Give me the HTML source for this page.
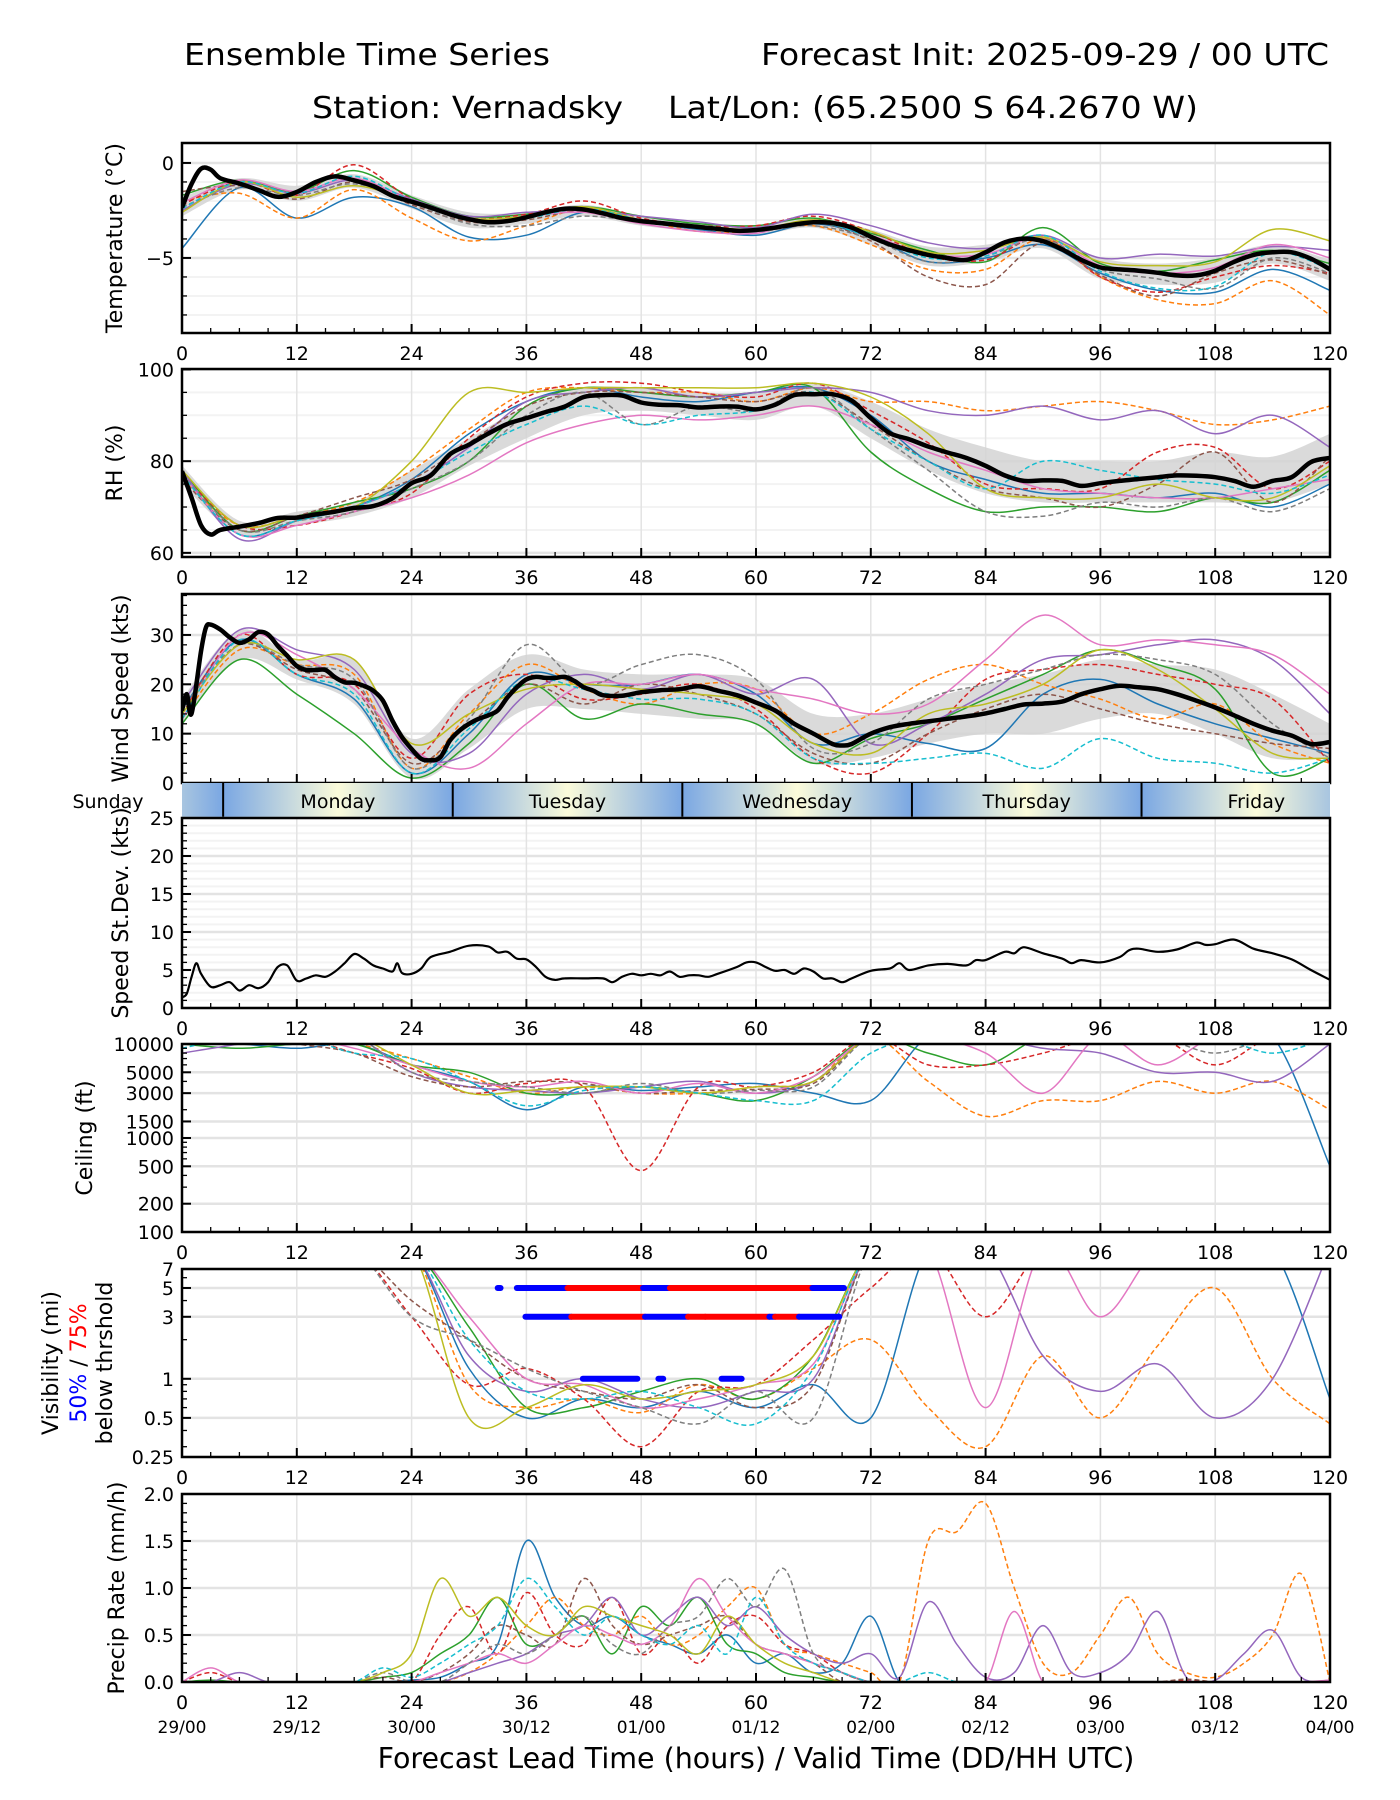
<!DOCTYPE html>
<html><head><meta charset="utf-8"><title>Ensemble Time Series - Vernadsky</title>
<style>
html,body{margin:0;padding:0;background:#fff;}
svg{display:block;font-family:"DejaVu Sans","Liberation Sans",sans-serif;}
</style></head>
<body>
<svg id="chart" xmlns="http://www.w3.org/2000/svg" width="1400" height="1800" viewBox="0 0 1400 1800">
<rect width="1400" height="1800" fill="#fff"/>
<text x="184" y="65" font-size="30" textLength="366" lengthAdjust="spacingAndGlyphs">Ensemble Time Series</text>
<text x="1329" y="65" font-size="30" text-anchor="end" textLength="568" lengthAdjust="spacingAndGlyphs">Forecast Init: 2025-09-29 / 00 UTC</text>
<text x="312" y="118" font-size="30" textLength="311" lengthAdjust="spacingAndGlyphs">Station: Vernadsky</text>
<text x="1198" y="118" font-size="30" text-anchor="end" textLength="530" lengthAdjust="spacingAndGlyphs">Lat/Lon: (65.2500 S 64.2670 W)</text>
<text x="756" y="1768" font-size="28.5" text-anchor="middle">Forecast Lead Time (hours) / Valid Time (DD/HH UTC)</text>
<g id="layer"></g>
</svg>
<script>
// ---------- DATA ----------
const memberColors = ["#1f77b4","#ff7f0e","#2ca02c","#d62728","#9467bd","#8c564b","#e377c2","#7f7f7f","#bcbd22","#17becf"];
const memberDashed = [false,true,false,true,false,true,false,true,false,true];
const hours6 = [0,6,12,18,24,30,36,42,48,54,60,66,72,78,84,90,96,102,108,114,120];
const hours3 = [0,3,6,9,12,15,18,21,24,27,30,33,36,39,42,45,48,51,54,57,60,63,66,69,72,75,78,81,84,87,90,93,96,99,102,105,108,111,114,117,120];

// Temperature
const tempMeanHours = [0,1,2,3,4,6,8,10,12,14,16,18,20,22,24,26,28,30,32,34,36,38,40,42,44,46,48,50,52,54,56,58,60,62,64,66,68,70,72,74,76,78,80,82,84,86,88,90,92,94,96,98,100,102,104,106,108,110,112,114,116,118,120];
const tempMean = [-2.35,-1.1,-0.3,-0.35,-0.8,-1.08,-1.43,-1.78,-1.53,-1.0,-0.71,-0.92,-1.22,-1.73,-2.04,-2.35,-2.7,-2.96,-3.12,-3.06,-2.86,-2.6,-2.41,-2.45,-2.65,-2.9,-3.06,-3.16,-3.27,-3.37,-3.47,-3.57,-3.53,-3.4,-3.24,-3.12,-3.16,-3.4,-3.88,-4.29,-4.59,-4.84,-5.0,-5.1,-4.7,-4.18,-3.98,-4.12,-4.55,-5.1,-5.5,-5.6,-5.67,-5.78,-5.92,-5.92,-5.67,-5.2,-4.84,-4.7,-4.7,-5.04,-5.6];
const tempLo = [-2.8,-1.4,-2.0,-1.3,-2.4,-3.4,-3.2,-2.8,-3.3,-3.6,-3.8,-3.4,-4.3,-5.4,-5.2,-4.5,-6.1,-6.4,-6.3,-5.3,-6.2];
const tempHi = [-1.8,-0.8,-1.2,-0.6,-1.7,-2.6,-2.6,-2.2,-2.8,-3.1,-3.3,-2.9,-3.5,-4.4,-4.3,-3.8,-5.0,-5.3,-5.0,-4.3,-5.1];
const tempM1 = [-4.5,-1.3,-2.9,-1.8,-2.3,-3.9,-3.8,-2.6,-3.1,-3.5,-3.8,-3.2,-3.9,-5.2,-5.0,-4.3,-5.8,-6.7,-6.8,-5.6,-6.7];
const tempM2 = [-2.0,-1.6,-2.9,-1.4,-2.9,-4.1,-3.3,-2.4,-3.0,-3.6,-3.6,-3.3,-4.3,-5.6,-5.6,-4.0,-6.0,-7.2,-7.4,-6.2,-8.0];
const tempM3 = [-1.7,-0.9,-1.5,-0.4,-1.8,-2.8,-2.7,-2.3,-2.8,-3.2,-3.3,-2.9,-3.7,-4.6,-5.2,-3.4,-5.3,-5.7,-5.1,-4.6,-5.3];
const tempM4 = [-2.2,-1.0,-1.7,-0.1,-1.9,-2.9,-2.7,-2.0,-2.9,-3.3,-3.3,-2.8,-3.6,-4.9,-5.1,-3.9,-6.0,-6.8,-6.0,-5.4,-5.8];
const tempM5 = [-2.5,-1.1,-1.6,-0.9,-1.9,-2.8,-2.6,-2.5,-2.8,-3.1,-3.4,-2.7,-3.3,-4.2,-4.5,-3.8,-5.0,-4.8,-4.9,-4.4,-4.6];
const tempM6 = [-1.5,-1.2,-1.9,-1.0,-2.2,-3.1,-3.0,-2.5,-3.1,-3.4,-3.5,-3.1,-4.1,-6.0,-6.4,-4.2,-5.9,-7.0,-5.8,-5.1,-5.9];
const tempM7 = [-2.1,-0.9,-1.5,-0.8,-2.0,-3.0,-2.8,-2.6,-3.2,-3.6,-3.7,-3.0,-3.8,-4.8,-4.8,-3.9,-5.4,-5.8,-5.5,-4.3,-5.0];
const tempM8 = [-2.3,-1.3,-1.7,-1.1,-2.1,-3.2,-3.3,-2.8,-3.1,-3.4,-3.6,-3.3,-4.0,-5.2,-4.9,-4.0,-5.6,-6.1,-6.6,-5.0,-5.8];
const tempM9 = [-2.6,-1.0,-1.8,-1.2,-2.0,-2.9,-2.8,-2.3,-3.0,-3.3,-3.5,-3.0,-3.6,-4.7,-4.6,-3.9,-5.2,-5.4,-5.2,-3.5,-4.1];
const tempM10 = [-2.4,-1.0,-1.6,-0.7,-2.0,-3.0,-2.9,-2.4,-3.0,-3.4,-3.6,-3.1,-3.9,-5.0,-4.9,-3.8,-5.7,-6.6,-6.5,-4.7,-5.6];

// Relative humidity
const rhMeanHours = [0,1,2,3,4,6,8,10,12,14,16,18,20,22,24,26,28,30,32,34,36,38,40,42,44,46,48,50,52,54,56,58,60,62,64,66,68,70,72,74,76,78,80,82,84,86,88,90,92,94,96,98,100,102,104,106,108,110,112,114,116,118,120];
const rhMean = [77.8,72,66,64,65,65.7,66.5,67.6,67.7,68.4,69,69.8,70.2,71.9,75.2,76.9,81.5,83.6,86,88.1,89.4,90.7,91.9,94,94.4,94.3,92.8,92.3,92.2,91.7,91.9,91.9,91.3,92.3,94.4,94.6,94.6,93.2,89.4,86.1,84.8,83.2,81.9,80.7,79,76.9,75.7,75.8,75.7,74.6,75.2,75.7,76.1,76.5,76.9,76.8,76.5,75.7,74.4,75.7,76.5,79.8,80.7];
const rhLo = [75,64,66,68,72,79,85,90,91,90,89,92,85,78,73,71,71,71,71,71,75];
const rhHi = [79,67,69,71,78,85,92,96,96,95,95,97,93,87,83,80,80,80,82,81,86];
const rhM1 = [77,64,67,70,76,86,93,96,94,93,95,96,90,80,76,73,73,72,73,70,75];
const rhM2 = [76,66,68,71,78,87,95,96,95,95,93,96,93,93,91,92,93,91,88,89,92];
const rhM3 = [78,65,68,71,74,80,92,96,95,94,95,96,82,74,69,70,70,69,72,71,78];
const rhM4 = [77,66,66,69,73,85,94,97,97,95,94,97,91,84,75,74,74,82,83,74,80];
const rhM5 = [78,63,67,70,75,83,93,95,96,94,95,96,95,91,90,92,89,91,86,90,83];
const rhM6 = [76,65,68,72,76,84,92,95,95,94,93,95,88,80,74,72,70,75,82,71,81];
const rhM7 = [77,64,66,69,72,77,84,88,90,89,90,92,88,82,78,74,73,72,72,74,76];
const rhM8 = [77,65,67,69,74,80,90,95,88,92,91,96,87,78,69,68,71,70,72,69,74];
const rhM9 = [78,66,68,70,80,95,95,96,96,96,96,97,94,86,74,72,72,75,72,72,79];
const rhM10 = [77,64,67,70,75,82,88,92,88,90,91,95,87,80,74,80,78,76,75,73,77];

// Wind speed
const windMeanHours = [0,0.5,1,2,2.5,3,4,5,6,7,8,9,10,11,12,13,14,15,16,17,18,19,20,21,22,23,24,25,26,27,28,29,30,31,32,33,34,35,36,37,38,39,40,41,42,43,44,46,48,50,52,54,56,58,60,62,64,66,68,69,70,72,74,76,78,80,82,84,86,88,90,92,94,96,98,100,102,104,106,108,110,112,114,116,118,120];
const windMean = [14.7,18,14.1,26.8,31.5,32.1,31.1,29.5,28.4,29.1,30.6,30.1,27.8,25.8,23.7,22.9,22.9,22.9,21.4,20.4,20.3,19.7,18.7,16.7,12.6,9.3,6.9,4.9,4.6,5.2,8.6,10.6,12,13,13.7,14.7,17.3,19.4,21,21.5,21.3,21.3,21.5,20.7,19.4,18.7,17.8,17.7,18.4,18.8,19,19.6,18.7,17.8,16.3,14.7,12,10,7.9,7.6,7.9,10,11.3,12,12.5,13,13.5,14.1,15,15.9,16.1,16.5,18,19,19.7,19.4,19,18,16.7,15.3,13.7,12,10.6,9.6,7.9,8.3];
const windLo = [12,25,21,16,1,7,15,15,14,13,12,4,5,8,10,10,13,14,10,5,5];
const windHi = [17,31,25,25,9,19,26,23,22,22,21,14,14,17,20,22,25,24,23,18,12];
const windM1 = [15,29,22,17,2,10,22,20,20,22,18,8,10,8,7,18,21,16,12,9,6];
const windM2 = [13,27,24,22,3,14,24,19,16,20,19,10,14,21,24,20,17,13,16,8,4];
const windM3 = [12,25,18,10,1,8,20,13,16,14,12,4,9,12,17,22,27,24,19,2,5];
const windM4 = [14,30,22,20,5,18,22,17,18,20,15,5,2,10,21,23,24,22,20,17,4];
const windM5 = [16,31,27,23,6,6,18,22,19,22,18,21,8,12,18,25,26,28,29,25,14];
const windM6 = [15,28,23,19,4,12,20,16,20,18,14,6,4,10,15,18,15,12,10,8,7];
const windM7 = [13,30,26,19,7,3,12,20,20,22,19,17,14,16,25,34,28,29,28,26,18];
const windM8 = [15,28,24,21,3,13,28,20,24,26,21,7,8,17,20,23,26,25,22,12,5];
const windM9 = [14,28,25,25,8,14,19,20,19,18,16,8,6,14,16,20,27,23,15,6,5];
const windM10 = [13,29,22,18,2,11,21,19,17,17,14,5,4,5,6,3,9,5,4,2,5];

// Speed standard deviation
const sdHours = [0,0.5,1,1.5,2,3,4,5,6,7,8,9,10,11,12,13,14,15,16,17,18,19,20,21,22,22.5,23,24,25,26,28,30,32,33,34,35,36,37,38,39,40,42,44,45,46,47,48,49,50,51,52,53,54,55,56,58,59,60,61,62,63,64,65,66,67,68,69,70,72,74,75,76,78,80,82,83,84,86,87,88,90,92,93,94,96,98,99,100,102,104,106,107,108,110,112,114,116,118,120];
const sdValues = [1.4,1.9,4.1,5.9,4.5,2.8,3.0,3.4,2.3,3.0,2.6,3.4,5.4,5.6,3.6,3.9,4.3,4.1,4.8,5.9,7.1,6.5,5.6,5.2,4.8,5.9,4.6,4.5,5.2,6.7,7.4,8.2,8.1,7.3,7.4,6.5,6.4,5.4,4.1,3.7,3.9,3.9,3.9,3.4,4.1,4.5,4.3,4.5,4.3,4.8,4.1,4.3,4.3,4.1,4.5,5.4,6.0,6.0,5.4,4.9,5.0,4.5,5.2,4.8,3.9,3.9,3.4,3.9,4.9,5.2,5.9,5.0,5.6,5.8,5.6,6.3,6.3,7.4,7.2,8.0,7.2,6.5,5.9,6.3,6.0,6.7,7.6,7.8,7.4,7.7,8.6,8.3,8.4,9.0,7.8,7.2,6.4,5.0,3.7];

// Ceiling (ft)
const ceilM1 = [10000,10000,9000,10000,6000,4000,2000,3500,3200,3500,3800,3000,2500,12000,12000,10000,12000,12000,12000,12000,500];
const ceilM2 = [10000,10000,10000,10000,7000,4500,3000,3500,3000,3000,3500,4000,12000,4000,1700,2500,2500,4000,3000,4000,2000];
const ceilM3 = [10000,9000,10000,10000,6000,5000,3000,3000,3500,3000,2500,4500,12000,8000,6000,12000,12000,12000,12000,12000,12000];
const ceilM4 = [12000,12000,12000,8000,5500,3000,3800,3500,450,3500,3500,5000,12000,6000,6000,8000,12000,12000,6000,12000,12000];
const ceilM5 = [8000,10000,12000,12000,5000,3500,3200,3000,3500,4000,3000,4000,12000,12000,12000,9000,8000,5000,5000,4000,10000];
const ceilM6 = [12000,12000,10000,8000,4500,3500,4000,3800,3000,3200,3300,3800,12000,12000,12000,12000,12000,12000,12000,12000,12000];
const ceilM7 = [12000,12000,12000,9000,6000,4000,3500,4000,3000,3800,3000,4500,12000,12000,8000,3000,12000,6000,12000,12000,12000];
const ceilM8 = [12000,12000,12000,12000,5000,4000,3500,3000,3800,3000,3200,3500,12000,12000,12000,12000,12000,12000,8000,12000,12000];
const ceilM9 = [12000,12000,12000,12000,6000,3000,3200,3500,3500,3000,3500,4000,12000,12000,12000,12000,12000,12000,12000,12000,12000];
const ceilM10 = [9000,12000,12000,8000,7000,4000,2200,3200,3500,3000,2500,2500,8000,12000,12000,12000,12000,12000,12000,8000,12000];

// Visibility (mi)
const visM1 = [10,10,10,10,10,1.2,0.5,0.7,0.6,0.8,0.6,0.9,0.5,10,10,10,10,10,10,10,0.7];
const visM2 = [10,10,10,10,10,0.9,0.6,0.7,0.55,0.9,0.7,1.2,2,0.6,0.3,1.5,0.5,1.8,5,1,0.45];
const visM3 = [10,10,10,10,10,2.5,0.6,0.6,0.8,1.0,0.7,1.5,10,10,10,10,10,10,10,10,10];
const visM4 = [10,10,10,10,3,0.9,1.2,0.7,0.3,0.8,0.9,2,5,10,3,10,10,10,10,10,10];
const visM5 = [10,10,10,10,10,1.5,0.8,1.0,0.7,0.6,0.8,1.0,10,10,10,1.5,0.8,1.3,0.5,1.0,10];
const visM6 = [10,10,10,10,4,2,1,0.8,0.7,0.9,0.6,0.9,10,10,10,10,10,10,10,10,10];
const visM7 = [10,10,10,10,10,3,1.0,0.9,0.6,0.7,0.9,1.3,10,10,0.6,10,3,10,10,10,10];
const visM8 = [10,10,10,10,3,2,1.2,0.8,0.6,0.45,0.8,0.5,10,10,10,10,10,10,10,10,10];
const visM9 = [10,10,10,10,10,0.5,0.6,0.9,0.7,0.8,0.9,1.5,10,10,10,10,10,10,10,10,10];
const visM10 = [10,10,10,10,10,2,0.8,0.7,0.8,0.6,0.45,1.2,10,10,10,10,10,10,10,10,10];
const thrStart = [33.0,35.0,40.3,48.2,51.0,65.9,35.9,40.7,48.4,52.9,54.7,61.4,62.0,64.5,41.9,49.8,56.4];
const thrEnd   = [33.3,40.3,48.2,51.0,65.9,69.2,40.7,48.4,52.9,54.7,61.4,62.0,64.5,68.7,47.6,50.3,58.5];
const thrLevel = [5,5,5,5,5,5,3,3,3,3,3,3,3,3,1,1,1];
const thrClass = [50,50,75,50,75,50,50,75,50,75,75,50,75,50,50,50,50];

// Precip rate (mm/h), 3-hourly
const prM1 = [0,0,0,0,0,0,0,0,0.02,0.05,0.2,0.4,1.5,0.9,0.6,0.7,0.5,0.4,0.3,0.5,0.2,0.3,0.1,0.2,0.7,0,0,0,0,0,0,0,0,0,0,0,0,0,0,0,0];
const prM2 = [0,0,0,0,0,0,0,0,0,0,0.1,0.3,0.6,0.9,0.6,0.5,0.7,0.4,0.5,0.8,1.0,0.4,0.3,0.2,0.1,0,1.5,1.6,1.9,1.0,0.2,0.1,0.5,0.9,0.3,0.1,0.05,0.2,0.5,1.15,0];
const prM3 = [0,0.02,0,0,0,0,0,0.05,0.1,0.3,0.5,0.9,0.4,0.5,0.7,0.3,0.8,0.6,0.9,0.4,0.3,0.1,0.05,0,0,0,0,0,0,0,0,0,0,0,0,0,0,0,0,0,0];
const prM4 = [0,0.1,0,0,0,0,0,0,0,0.5,0.8,0.3,0.95,0.5,0.4,0.9,0.3,0.5,0.2,0.6,0.7,0.4,0.3,0.1,0,0,0,0,0,0,0,0,0,0,0,0.02,0,0,0,0,0];
const prM5 = [0,0,0.1,0,0,0,0,0,0,0,0.1,0.2,0.3,0.5,0.6,0.9,0.5,0.7,0.9,0.6,0.8,0.5,0.3,0.2,0.3,0.05,0.85,0.4,0.05,0.1,0.6,0.1,0.1,0.3,0.75,0.05,0.02,0.3,0.55,0.05,0.02];
const prM6 = [0,0,0,0,0,0,0,0.05,0,0.1,0.3,0.6,0.5,0.4,1.1,0.6,0.4,0.5,0.6,0.7,0.4,0.3,0.2,0,0,0,0,0,0,0,0,0,0,0,0,0.03,0,0,0,0,0];
const prM7 = [0,0.15,0,0,0,0,0,0,0,0.1,0.2,0.3,0.2,0.4,0.6,0.5,0.4,0.6,1.1,0.7,0.4,0.3,0.2,0.1,0,0,0,0,0,0.75,0,0,0,0,0,0,0,0,0,0,0.02];
const prM8 = [0,0,0,0,0,0,0,0.1,0,0,0.2,0.4,0.3,0.5,0.7,0.4,0.3,0.6,0.7,1.1,0.8,1.2,0.3,0.1,0,0,0,0,0,0,0,0,0,0,0,0,0,0,0,0,0];
const prM9 = [0,0,0,0,0,0,0,0.1,0.3,1.1,0.7,0.9,0.6,0.5,0.8,0.7,0.6,0.5,0.3,0.7,0.4,0.2,0.1,0,0,0,0,0,0,0,0,0,0,0,0,0,0,0,0,0,0];
const prM10 = [0,0,0,0,0,0,0,0.15,0.05,0.2,0.4,0.6,1.1,0.8,0.5,0.7,0.5,0.4,0.6,0.3,0.9,0.4,0.2,0.1,0,0,0.1,0,0,0,0,0,0,0,0,0,0,0,0,0,0,0];

// Tick labels
const xTickHours = [0,12,24,36,48,60,72,84,96,108,120];
const xDateLabels = ["29/00","29/12","30/00","30/12","01/00","01/12","02/00","02/12","03/00","03/12","04/00"];
const dayNames = ["Sunday","Monday","Tuesday","Wednesday","Thursday","Friday"];
const localMidnightOffset = 4.3;

// ---------- RENDER ----------
const NS = "http://www.w3.org/2000/svg";
const layer = document.getElementById("layer");
const X0 = 182, X1 = 1330;
const TICK_FS = 19;
function xs(h){ return X0 + (h/120)*(X1-X0); }
function mk(tag, attrs, parent){
  const el = document.createElementNS(NS, tag);
  for (const k in attrs) el.setAttribute(k, attrs[k]);
  (parent||layer).appendChild(el);
  return el;
}
function ysFn(p){
  return function(v){
    let t;
    if (p.log){ const vv = Math.max(v, p.min*0.5); t = (Math.log(vv)-Math.log(p.min))/(Math.log(p.max)-Math.log(p.min)); }
    else t = (v-p.min)/(p.max-p.min);
    return p.bottom - t*(p.bottom-p.top);
  };
}
function smoothPath(pts){
  if (pts.length < 2) return "";
  let d = "M" + pts[0][0].toFixed(1) + "," + pts[0][1].toFixed(1);
  for (let i=0;i<pts.length-1;i++){
    const p0 = pts[Math.max(0,i-1)], p1 = pts[i], p2 = pts[i+1], p3 = pts[Math.min(pts.length-1,i+2)];
    const c1x = p1[0] + (p2[0]-p0[0])/6, c1y = p1[1] + (p2[1]-p0[1])/6;
    const c2x = p2[0] - (p3[0]-p1[0])/6, c2y = p2[1] - (p3[1]-p1[1])/6;
    d += " C" + c1x.toFixed(1)+","+c1y.toFixed(1)+" "+c2x.toFixed(1)+","+c2y.toFixed(1)+" "+p2[0].toFixed(1)+","+p2[1].toFixed(1);
  }
  return d;
}
let clipId = 0;
function makePanel(p){
  const y = ysFn(p);
  const g = mk("g", {});
  
  
  const id = "clip" + (clipId++);
  const cp = mk("clipPath", {id:id}, g);
  mk("rect", {x:X0, y:p.top, width:X1-X0, height:p.bottom-p.top}, cp);
  (p.minorGrid||[]).forEach(v=>{
    const ln = mk("line", {x1:X0, x2:X1, y1:y(v), y2:y(v), stroke:"#f3f3f3", "stroke-width":2}, g);
    
    
  });
  xTickHours.forEach(h=>{
    const ln = mk("line", {x1:xs(h), x2:xs(h), y1:p.top, y2:p.bottom, stroke:"#e3e3e3", "stroke-width":1.5}, g);
    
    
  });
  p.yTicks.forEach(v=>{
    const ln = mk("line", {x1:X0, x2:X1, y1:y(v), y2:y(v), stroke:"#e3e3e3", "stroke-width":2.5}, g);
    
    
  });
  const inner = mk("g", {"clip-path":"url(#"+id+")"}, g);
  p.y = y; p.inner = inner; p.g = g;
  return p;
}
function drawLine(p, hrs, vals, color, width, dashed, name){
  const pts = hrs.map((h,i)=>[xs(h), p.y(vals[i])]);
  const path = mk("path", {d:smoothPath(pts), fill:"none", stroke:color, "stroke-width":width, "stroke-linejoin":"round"}, p.inner);
  if (dashed) path.setAttribute("stroke-dasharray", "5,3");
  
  
  return path;
}
function drawBand(p, hrs, lo, hi, name){
  const top = hrs.map((h,i)=>[xs(h), p.y(hi[i])]);
  const bot = hrs.map((h,i)=>[xs(h), p.y(lo[i])]).reverse();
  let d = smoothPath(top) + " L" + bot[0][0].toFixed(1)+","+bot[0][1].toFixed(1) + smoothPath(bot).replace(/^M[^C]*/,"") + " Z";
  const path = mk("path", {d:d, fill:"#d4d4d4", "fill-opacity":0.85, stroke:"none"}, p.inner);
  
  
}
function finishPanel(p, showX){
  const g = p.g, y = p.y;
  for (let h=0; h<=120; h+=3){
    const major = h%12===0;
    const t = mk("line", {x1:xs(h), x2:xs(h), y1:p.bottom, y2:p.bottom-(major?9:5), stroke:"#000", "stroke-width":major?2:1.3}, g);
    
    
  }
  (p.minorTicks||[]).forEach(v=>{
    const t = mk("line", {x1:X0, x2:X0+5, y1:y(v), y2:y(v), stroke:"#000", "stroke-width":1.3}, g);
    
    
  });
  p.yTicks.forEach((v,i)=>{
    const t = mk("line", {x1:X0, x2:X0+9, y1:y(v), y2:y(v), stroke:"#000", "stroke-width":2}, g);
    
    
    const tx = mk("text", {x:X0-8, y:y(v)+7, "font-size":TICK_FS, "text-anchor":"end"}, g);
    tx.textContent = p.yLabels[i];
    
    
  });
  const fr = mk("rect", {x:X0, y:p.top, width:X1-X0, height:p.bottom-p.top, fill:"none", stroke:"#000", "stroke-width":2.5}, g);
  
  
  if (showX){
    xTickHours.forEach(h=>{
      const tx = mk("text", {x:xs(h), y:p.bottom+27, "font-size":TICK_FS, "text-anchor":"middle"}, g);
      tx.textContent = String(h);
      
      
    });
  }
}
function range(a,b,s){ const r=[]; for(let v=a; v<=b+1e-9; v+=s) r.push(+v.toFixed(3)); return r; }

// Temperature
const pT = makePanel({name:"temperature", top:143, bottom:333, min:-8.95, max:1.05, yTicks:[0,-5], yLabels:["0","\u22125"], minorGrid:[-8,-7,-6,-4,-3,-2,-1], minorTicks:[-8,-7,-6,-4,-3,-2,-1]});
drawBand(pT, hours6, tempLo, tempHi, "temperature-spread-band");
[tempM1,tempM2,tempM3,tempM4,tempM5,tempM6,tempM7,tempM8,tempM9,tempM10].forEach((m,i)=>drawLine(pT, hours6, m, memberColors[i], 1.5, memberDashed[i], "temperature-member-line"));
drawLine(pT, tempMeanHours, tempMean, "#000", 4.5, false, "temperature-mean-line");
finishPanel(pT, true);

// RH
const pR = makePanel({name:"rh", top:369, bottom:557, min:59.1, max:100.1, yTicks:[60,80,100], yLabels:["60","80","100"], minorGrid:[65,70,75,85,90,95], minorTicks:[65,70,75,85,90,95]});
drawBand(pR, hours6, rhLo, rhHi, "rh-spread-band");
[rhM1,rhM2,rhM3,rhM4,rhM5,rhM6,rhM7,rhM8,rhM9,rhM10].forEach((m,i)=>drawLine(pR, hours6, m, memberColors[i], 1.5, memberDashed[i], "rh-member-line"));
drawLine(pR, rhMeanHours, rhMean, "#000", 4.5, false, "rh-mean-line");
finishPanel(pR, true);

// Wind
const pW = makePanel({name:"wind", top:594, bottom:783, min:0, max:38.3, yTicks:[0,10,20,30], yLabels:["0","10","20","30"], minorGrid:[], minorTicks:range(2,38,2).filter(v=>v%10!==0)});
drawBand(pW, hours6, windLo, windHi, "wind-spread-band");
[windM1,windM2,windM3,windM4,windM5,windM6,windM7,windM8,windM9,windM10].forEach((m,i)=>drawLine(pW, hours6, m, memberColors[i], 1.5, memberDashed[i], "wind-member-line"));
drawLine(pW, windMeanHours, windMean, "#000", 4.5, false, "wind-mean-line");
finishPanel(pW, false);

// Day bar
(function(){
  const top = 783, bot = 818;
  const defs = mk("defs", {});
  const grad = mk("linearGradient", {id:"dayGrad", x1:"0", x2:"1", y1:"0", y2:"0"}, defs);
  mk("stop", {offset:"0", "stop-color":"#7aa7e3"}, grad);
  mk("stop", {offset:"0.5", "stop-color":"#fbfbda"}, grad);
  mk("stop", {offset:"1", "stop-color":"#7aa7e3"}, grad);
  const cp = mk("clipPath", {id:"dayClip"}, defs);
  mk("rect", {x:X0, y:top, width:X1-X0, height:bot-top}, cp);
  const g = mk("g", {"clip-path":"url(#dayClip)"});
  
  
  for (let d=-1; d<5; d++){
    const h0 = localMidnightOffset + 24*d;
    const r = mk("rect", {x:xs(h0), y:top, width:xs(h0+24)-xs(h0), height:bot-top, fill:"url(#dayGrad)"}, g);
    
    
    const ln = mk("line", {x1:xs(h0), x2:xs(h0), y1:top, y2:bot, stroke:"#000", "stroke-width":2}, g);
    
    
  }
  dayNames.forEach((n,i)=>{
    let cx = xs(localMidnightOffset + 24*(i-1) + 12);
    if (i===0){ cx = 108; }
    const tx = mk("text", {x:cx, y:top+25, "font-size":19, "text-anchor":"middle"});
    tx.textContent = n;
    
    
  });
})();

// Speed std dev
const pS = makePanel({name:"speed-stdev", top:818, bottom:1008, min:0, max:25, yTicks:[0,5,10,15,20,25], yLabels:["0","5","10","15","20","25"], minorGrid:range(1,24,1).filter(v=>v%5!==0), minorTicks:range(1,24,1).filter(v=>v%5!==0)});
drawLine(pS, sdHours, sdValues, "#000", 2.2, false, "speed-stdev-line");
finishPanel(pS, true);

// Ceiling
const pC = makePanel({name:"ceiling", top:1044, bottom:1232, min:100, max:10000, log:true, yTicks:[100,200,500,1000,1500,3000,5000,10000], yLabels:["100","200","500","1000","1500","3000","5000","10000"], minorGrid:[], minorTicks:[300,400,600,700,800,900,2000,4000,6000,7000,8000,9000]});
[ceilM1,ceilM2,ceilM3,ceilM4,ceilM5,ceilM6,ceilM7,ceilM8,ceilM9,ceilM10].forEach((m,i)=>drawLine(pC, hours6, m, memberColors[i], 1.5, memberDashed[i], "ceiling-member-line"));
finishPanel(pC, true);

// Visibility
const pV = makePanel({name:"visibility", top:1269, bottom:1457, min:0.25, max:7, log:true, yTicks:[0.25,0.5,1,3,5,7], yLabels:["0.25","0.5","1","3","5","7"], minorGrid:[], minorTicks:[0.3,0.4,0.6,0.7,0.8,0.9,2,4,6]});
[visM1,visM2,visM3,visM4,visM5,visM6,visM7,visM8,visM9,visM10].forEach((m,i)=>drawLine(pV, hours6, m, memberColors[i], 1.5, memberDashed[i], "visibility-member-line"));
thrStart.forEach((s,i)=>{
  const yy = pV.y(thrLevel[i]);
  const ln = mk("line", {x1:xs(s), x2:xs(thrEnd[i]), y1:yy, y2:yy, stroke: thrClass[i]===75 ? "#ff0000" : "#0000ff", "stroke-width":6, "stroke-linecap":"round"}, pV.inner);
  
  
});
finishPanel(pV, true);

// Precip
const pP = makePanel({name:"precip", top:1494, bottom:1682, min:0, max:2.0, yTicks:[0,0.5,1,1.5,2], yLabels:["0.0","0.5","1.0","1.5","2.0"], minorGrid:[], minorTicks:range(0.1,1.9,0.1).filter(v=>Math.abs(v*2-Math.round(v*2))>1e-6)});
[prM1,prM2,prM3,prM4,prM5,prM6,prM7,prM8,prM9,prM10].forEach((m,i)=>{
  const clamped = m.map(v=>Math.max(v,0));
  drawLine(pP, hours3, clamped, memberColors[i], 1.5, memberDashed[i], "precip-member-line");
});
finishPanel(pP, true);
xDateLabels.forEach((lab,i)=>{
  const tx = mk("text", {x:xs(xTickHours[i]), y:1733, "font-size":17, "text-anchor":"middle"});
  tx.textContent = lab;
  
  
});

// Y titles
const titleDefs = [
  {p:pT, x:122, parts:[{t:"Temperature (\u00B0C)"}], name:"temperature-y-title"},
  {p:pR, x:122, parts:[{t:"RH (%)"}], name:"rh-y-title"},
  {p:pW, x:128, parts:[{t:"Wind Speed (kts)"}], name:"wind-y-title"},
  {p:pS, x:128, parts:[{t:"Speed St.Dev. (kts)"}], name:"speed-stdev-y-title"},
  {p:pC, x:92, parts:[{t:"Ceiling (ft)"}], name:"ceiling-y-title"},
  {p:pV, x:58, parts:[{t:"Visibility (mi)"}], name:"visibility-y-title"},
  {p:pV, x:86, parts:[{t:"50%",c:"#0000ff"},{t:" / "},{t:"75%",c:"#ff0000"}], name:"visibility-threshold-legend"},
  {p:pV, x:112, parts:[{t:"below thrshold"}], name:"visibility-threshold-caption"},
  {p:pP, x:124, parts:[{t:"Precip Rate (mm/h)"}], name:"precip-y-title"}
];
titleDefs.forEach(d=>{
  const cy = (d.p.top+d.p.bottom)/2;
  const tx = mk("text", {x:d.x, y:cy, "font-size":22, "text-anchor":"middle", transform:"rotate(-90 "+d.x+" "+cy+")"});
  d.parts.forEach(pt=>{ const s = mk("tspan", {fill:pt.c||"#000"}, tx); s.textContent = pt.t; });
  
  
});
</script>
</body></html>
